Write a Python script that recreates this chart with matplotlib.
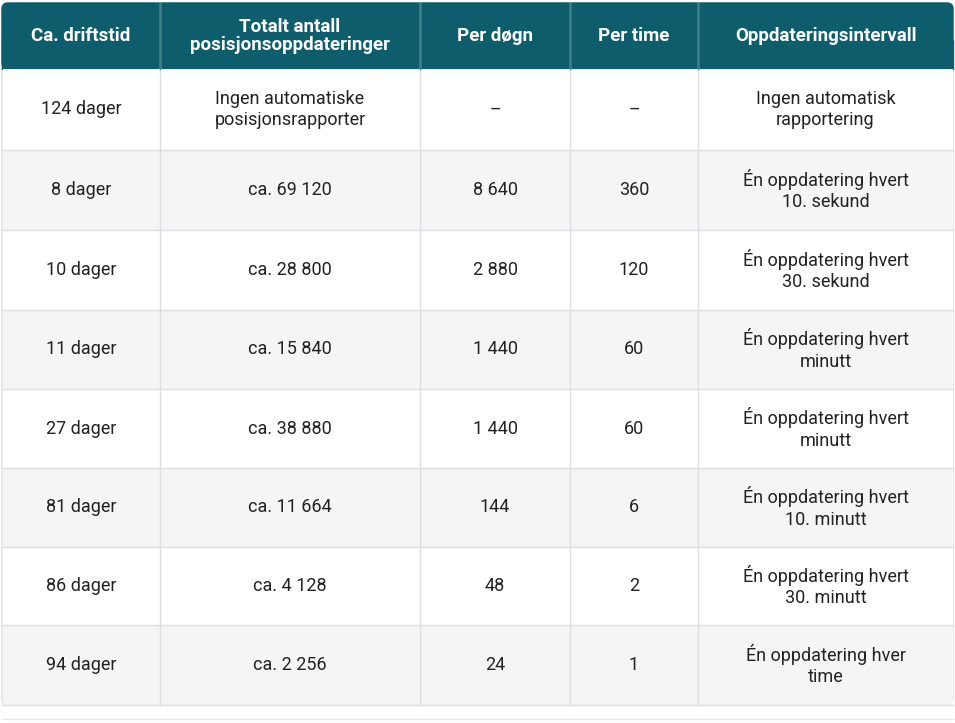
import matplotlib.pyplot as plt
from matplotlib.patches import Rectangle, FancyBboxPatch

plt.rcParams['font.family'] = ['Roboto', 'DejaVu Sans']

headers = ["Ca. driftstid", "Totalt antall\nposisjonsoppdateringer", "Per døgn", "Per time",
           "Oppdateringsintervall"]
driftstid = ["124 dager", "8 dager", "10 dager", "11 dager", "27 dager", "81 dager", "86 dager", "94 dager"]
totalt = ["Ingen automatiske\nposisjonsrapporter", "ca. 69 120", "ca. 28 800", "ca. 15 840",
          "ca. 38 880", "ca. 11 664", "ca. 4 128", "ca. 2 256"]
per_dogn = ["–", "8 640", "2 880", "1 440", "1 440", "144", "48", "24"]
per_time = ["–", "360", "120", "60", "60", "6", "2", "1"]
intervall = ["Ingen automatisk\nrapportering", "Én oppdatering hvert\n10. sekund",
             "Én oppdatering hvert\n30. sekund", "Én oppdatering hvert\nminutt",
             "Én oppdatering hvert\nminutt", "Én oppdatering hvert\n10. minutt",
             "Én oppdatering hvert\n30. minutt", "Én oppdatering hver\ntime"]

col_x = [2, 160, 420, 570, 698, 953]
row_y = [69, 150, 230, 310, 389, 468, 547, 625, 705]
header_top = 3

W, H = 955, 723
fig = plt.figure(figsize=(W / 100, H / 100), dpi=100)
ax = fig.add_axes([0, 0, 1, 1])
ax.set_xlim(0, W)
ax.set_ylim(H, 0)
ax.axis('off')

teal = "#0e5d6c"
grid = "#dcdfe2"

# outer rounded frame
ax.add_patch(FancyBboxPatch((col_x[0], header_top), col_x[-1] - col_x[0], row_y[-1] - header_top,
                            boxstyle="round,pad=0,rounding_size=6", fc="white", ec=grid, lw=1, zorder=0))
ax.add_patch(FancyBboxPatch((col_x[0], header_top), col_x[-1] - col_x[0], row_y[0] - header_top,
                            boxstyle="round,pad=0,rounding_size=6", fc=teal, ec=teal, zorder=1))
ax.add_patch(Rectangle((col_x[0], 40), col_x[-1] - col_x[0], row_y[0] - 40, fc=teal, ec=teal, zorder=1))

for i in range(len(driftstid)):
    fc = "white" if i % 2 == 0 else "#f5f5f6"
    ax.add_patch(Rectangle((col_x[0] + 0.5, row_y[i]), col_x[-1] - col_x[0] - 1, row_y[i + 1] - row_y[i],
                           fc=fc, ec="none", zorder=1))
    ax.plot([col_x[0], col_x[-1]], [row_y[i + 1], row_y[i + 1]], color=grid, lw=1, zorder=2)

for x in col_x[1:-1]:
    ax.plot([x, x], [header_top, row_y[-1]], color=grid, lw=1, zorder=2)
    ax.plot([x, x], [header_top, row_y[0]], color="#3f7f8b", lw=1, zorder=2)

for j, h in enumerate(headers):
    cx = (col_x[j] + col_x[j + 1]) / 2
    ax.text(cx, (header_top + row_y[0]) / 2, h, ha='center', va='center', color='white',
            fontsize=13.5, fontweight='bold', linespacing=1.0, zorder=3)

cols = [driftstid, totalt, per_dogn, per_time, intervall]
for j, col in enumerate(cols):
    cx = (col_x[j] + col_x[j + 1]) / 2
    for i, v in enumerate(col):
        cy = (row_y[i] + row_y[i + 1]) / 2
        ax.text(cx, cy, v, ha='center', va='center', color='#222222', fontsize=13,
                linespacing=1.25, zorder=3)

ax.plot([col_x[0], col_x[-1]], [719, 719], color="#e6e8ea", lw=1)

fig.savefig("out.png", dpi=100)
